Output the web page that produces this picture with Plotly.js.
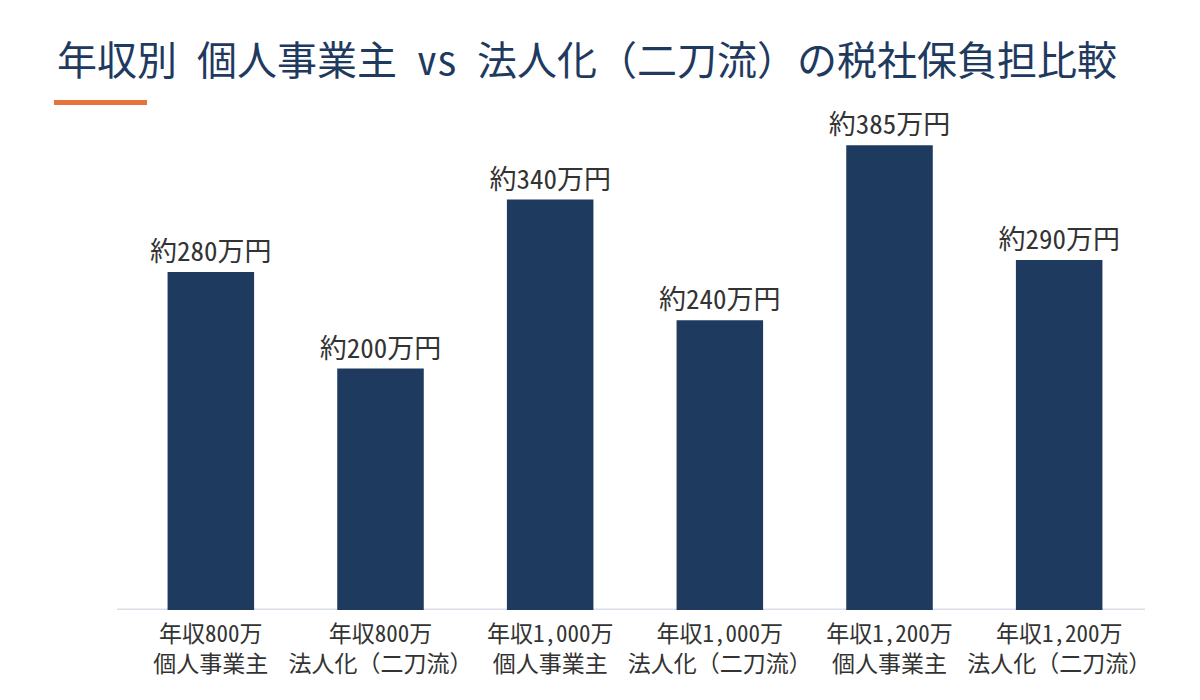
<!DOCTYPE html>
<html>
<head>
<meta charset="utf-8">
<script src="https://cdn.plot.ly/plotly-3.0.1.min.js"></script>
<style>
html,body{margin:0;padding:0;background:#fff;}
#chart{width:1200px;height:700px;}
</style>
</head>
<body>
<div id="chart"></div>
<script>
const categories = [
  "年収800万<br>個人事業主",
  "年収800万<br>法人化（二刀流）",
  "年収1,000万<br>個人事業主",
  "年収1,000万<br>法人化（二刀流）",
  "年収1,200万<br>個人事業主",
  "年収1,200万<br>法人化（二刀流）"
];
const values = [280, 200, 340, 240, 385, 290];
const valueLabels = ["約280万円", "約200万円", "約340万円", "約240万円", "約385万円", "約290万円"];
const titleText = "年収別 個人事業主 vs 法人化（二刀流）の税社保負担比較";

const FONT = "'Noto Sans Mono CJK JP', 'Noto Sans CJK JP', 'DejaVu Sans Mono', monospace";

const trace = {
  type: "bar",
  x: categories,
  y: values,
  text: valueLabels,
  textposition: "outside",
  constraintext: "none",
  cliponaxis: false,
  textfont: {family: FONT, size: 27, color: "#333333"},
  marker: {color: "#1f3a5f"},
  hoverinfo: "skip"
};

const layout = {
  width: 1200,
  height: 700,
  paper_bgcolor: "#ffffff",
  plot_bgcolor: "#ffffff",
  margin: {l: 126, r: 56, t: 103, b: 90},
  showlegend: false,
  bargap: 0.49,
  title: {
    text: titleText,
    x: 57/1200, xanchor: "left", xref: "container",
    y: 1 - 61/700, yanchor: "middle", yref: "container",
    font: {family: FONT, size: 40, color: "#1f3a5f"}
  },
  xaxis: {
    type: "category",
    showline: false, showgrid: false, zeroline: false,
    ticks: "", ticklen: 0,
    ticklabelstandoff: 8,
    tickfont: {family: FONT, size: 23, color: "#333333"},
    automargin: false
  },
  yaxis: {
    range: [0, 420],
    visible: false,
    showgrid: false, zeroline: false, fixedrange: true
  },
  shapes: [
    {type: "line", xref: "paper", yref: "y", x0: -9/1018, x1: 1019/1018, y0: 0, y1: 0,
     line: {color: "#d9dee8", width: 3}, layer: "below"},
    {type: "rect", xref: "paper", yref: "paper",
     x0: (54-126)/1018, x1: (147-126)/1018, y0: (610-105)/507, y1: (610-100)/507,
     fillcolor: "#e8733a", line: {width: 0}}
  ]
};

Plotly.newPlot("chart", [trace], layout, {displayModeBar: false, staticPlot: true});
</script>
</body>
</html>
